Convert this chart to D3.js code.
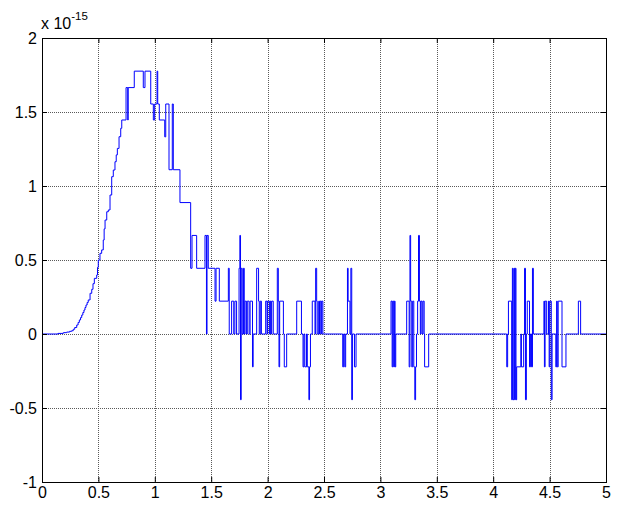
<!DOCTYPE html>
<html>
<head>
<meta charset="utf-8">
<script src="https://cdn.jsdelivr.net/npm/d3@7"></script>
<style>
  body { margin: 0; background: #fff; }
  text { font-family: Arial, "Liberation Sans", sans-serif; }
</style>
</head>
<body>
<div id="chart"></div>
<script>
// ticks
var xTicks = [0, 0.5, 1, 1.5, 2, 2.5, 3, 3.5, 4, 4.5, 5];
var yTicks = [-1, -0.5, 0, 0.5, 1, 1.5, 2];

// step data [t, value x1e-15], value holds until next t
var risePts = [
  [0, 0], [0.142, 0.004], [0.189, 0.009], [0.219, 0.013], [0.245, 0.018], [0.263, 0.022],
  [0.277, 0.032], [0.29, 0.044], [0.308, 0.061], [0.32, 0.078], [0.331, 0.095], [0.342, 0.111],
  [0.352, 0.128], [0.362, 0.145], [0.372, 0.162], [0.381, 0.179], [0.39, 0.196], [0.40, 0.213],
  [0.41, 0.23], [0.426, 0.275], [0.441, 0.302], [0.452, 0.34], [0.464, 0.376], [0.485, 0.399],
  [0.492, 0.45], [0.499, 0.5], [0.514, 0.545], [0.529, 0.568], [0.543, 0.635], [0.551, 0.71],
  [0.559, 0.77], [0.574, 0.826], [0.588, 0.838], [0.603, 0.939], [0.618, 1.063], [0.632, 1.108],
  [0.647, 1.164], [0.658, 1.21], [0.668, 1.254], [0.683, 1.333], [0.698, 1.39], [0.707, 1.446],
  [0.745, 1.665], [0.760, 1.446], [0.764, 1.665], [0.818, 1.776], [0.898, 1.665], [0.913, 1.776],
  [0.964, 1.554], [0.987, 1.446], [0.999, 1.554], [1.020, 1.776], [1.026, 1.554], [1.040, 1.446],
  [1.088, 1.332], [1.097, 1.554], [1.126, 1.110], [1.155, 1.554], [1.164, 1.110], [1.223, 0.888]
];

var tailPts = [
  [1.318, 0.444], [1.330, 0.666], [1.371, 0.444], [1.445, 0.666], [1.458, 0], [1.463, 0.666],
  [1.474, 0.444], [1.534, 0.222], [1.543, 0.444], [1.572, 0.222], [1.652, 0.444], [1.660, 0],
  [1.681, 0.222], [1.700, 0], [1.710, 0.222], [1.725, 0], [1.747, 0.444], [1.754, 0.666],
  [1.760, -0.444], [1.766, 0.444], [1.775, 0], [1.786, 0.444], [1.793, 0], [1.800, 0.222],
  [1.812, 0], [1.820, 0.222], [1.836, 0], [1.845, 0.222], [1.866, -0.222], [1.872, 0],
  [1.903, 0.444], [1.920, 0.222], [1.926, 0], [1.935, 0.222], [1.945, 0], [1.983, 0.222],
  [1.995, 0], [2.000, 0.222], [2.016, 0], [2.024, 0.222], [2.030, 0], [2.036, 0.222],
  [2.050, 0], [2.086, 0.444], [2.095, 0.222], [2.101, -0.222], [2.107, 0.222], [2.140, 0],
  [2.148, -0.222], [2.169, 0], [2.258, 0.222], [2.300, 0], [2.314, -0.222], [2.322, 0],
  [2.330, -0.222], [2.345, 0], [2.352, -0.222], [2.366, -0.444], [2.372, -0.222], [2.380, 0],
  [2.396, 0.222], [2.420, 0], [2.426, 0.444], [2.435, 0.222], [2.440, 0], [2.453, 0.222],
  [2.460, 0], [2.466, 0.222], [2.475, 0], [2.480, 0.222], [2.490, 0]
];

var midPts = [
  [2.666, -0.222], [2.674, 0], [2.684, -0.222], [2.692, 0], [2.708, 0.444], [2.714, 0.222],
  [2.730, 0], [2.738, 0.444], [2.746, -0.444], [2.752, 0], [2.770, -0.222], [2.784, 0],
  [3.094, 0.222], [3.104, -0.222], [3.110, 0.222], [3.118, -0.222], [3.124, 0.222], [3.130, -0.222],
  [3.136, 0], [3.233, 0.222], [3.255, -0.222], [3.262, 0.666], [3.268, 0.222], [3.278, -0.222],
  [3.286, 0.222], [3.296, -0.222], [3.305, -0.444], [3.312, -0.222], [3.320, 0], [3.330, 0.222],
  [3.338, 0.666], [3.346, 0.222], [3.354, 0], [3.360, 0.222], [3.370, 0], [3.378, 0.222],
  [3.388, 0], [3.392, -0.222], [3.428, 0]
];

var latePts = [
  [4.120, -0.222], [4.128, 0], [4.135, 0.222], [4.164, -0.444], [4.170, 0.444], [4.176, -0.444],
  [4.184, 0.444], [4.190, -0.444], [4.196, 0.444], [4.202, -0.444], [4.208, -0.222], [4.245, 0],
  [4.250, -0.222], [4.270, 0], [4.278, 0.444], [4.286, -0.444], [4.294, 0], [4.302, 0.222],
  [4.322, -0.222], [4.330, 0], [4.340, -0.222], [4.348, 0.444], [4.356, 0], [4.450, 0.222],
  [4.454, -0.222], [4.460, 0.222], [4.474, 0], [4.490, 0.222], [4.496, -0.222], [4.502, 0.222],
  [4.515, -0.444], [4.522, 0], [4.555, -0.222], [4.562, 0.222], [4.568, -0.222], [4.576, 0.222],
  [4.610, -0.222], [4.645, 0], [4.755, 0.222], [4.775, 0], [5.0, 0]
];

var W = 620, H = 507;
var plotL = 42, plotR = 606, plotT = 38, plotB = 482;

var svg = d3.select("#chart").append("svg")
  .attr("width", W).attr("height", H);

var x = d3.scaleLinear().domain([0, 5]).range([plotL, plotR]);
var y = d3.scaleLinear().domain([-1, 2]).range([plotB, plotT]);

// grid (dotted)
var grid = svg.append("g")
  .attr("stroke", "#5a5a5a")
  .attr("stroke-width", 1)
  .attr("stroke-dasharray", "1,1");
grid.selectAll("line.gx").data(xTicks.slice(1, -1)).enter().append("line")
  .attr("x1", function(d){ return Math.round(x(d)) + 0.5; })
  .attr("x2", function(d){ return Math.round(x(d)) + 0.5; })
  .attr("y1", plotT).attr("y2", plotB);
grid.selectAll("line.gy").data(yTicks.slice(1, -1)).enter().append("line")
  .attr("y1", function(d){ return Math.round(y(d)) + 0.5; })
  .attr("y2", function(d){ return Math.round(y(d)) + 0.5; })
  .attr("x1", plotL).attr("x2", plotR);

// data line
var pts = risePts.concat(tailPts, midPts, latePts);
var line = d3.line()
  .x(function(d){ return x(d[0]); })
  .y(function(d){ return y(d[1]); })
  .curve(d3.curveStepAfter);
svg.append("path")
  .datum(pts)
  .attr("fill", "none")
  .attr("stroke", "#0000ff")
  .attr("stroke-width", 1)
  .attr("d", line);

// axes with inward ticks
function styleAxis(g) {
  g.select(".domain").remove();
  g.selectAll(".tick line").attr("stroke", "#000");
  g.selectAll(".tick text").attr("fill", "#000").style("font-size", "16px");
}
svg.append("g").attr("transform", "translate(0," + plotB + ")")
  .call(d3.axisBottom(x).tickValues(xTicks).tickSize(-5).tickPadding(5)
    .tickFormat(function(d){ return String(d); }))
  .call(styleAxis);
svg.append("g").attr("transform", "translate(" + plotL + ",0)")
  .call(d3.axisLeft(y).tickValues(yTicks).tickSize(-5).tickPadding(5)
    .tickFormat(function(d){ return String(d); }))
  .call(styleAxis);
svg.append("g").attr("transform", "translate(0," + plotT + ")")
  .call(d3.axisTop(x).tickValues(xTicks).tickSize(-5).tickFormat(""))
  .call(styleAxis);
svg.append("g").attr("transform", "translate(" + plotR + ",0)")
  .call(d3.axisRight(y).tickValues(yTicks).tickSize(-5).tickFormat(""))
  .call(styleAxis);

// box
svg.append("rect")
  .attr("x", plotL + 0.5).attr("y", plotT + 0.5)
  .attr("width", plotR - plotL).attr("height", plotB - plotT)
  .attr("fill", "none").attr("stroke", "#000").attr("stroke-width", 1);

// exponent label
var expo = svg.append("text").attr("x", 41).attr("y", 29)
  .style("font-size", "16px").attr("fill", "#000");
expo.append("tspan").text("x 10");
expo.append("tspan").attr("dy", -9).style("font-size", "11.5px").text("-15");
</script>
</body>
</html>
